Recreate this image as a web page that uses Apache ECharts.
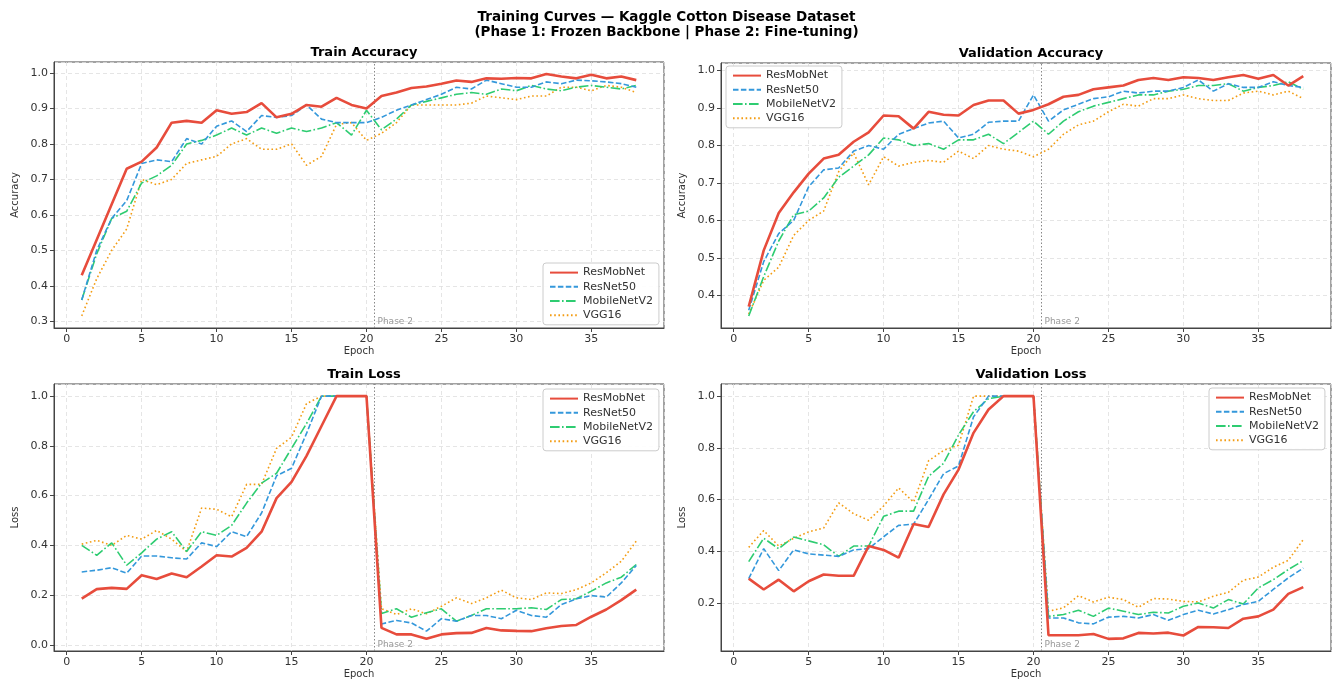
<!DOCTYPE html>
<html>
<head>
<meta charset="utf-8">
<title>Training Curves — Kaggle Cotton Disease Dataset</title>
<script src="https://cdn.jsdelivr.net/npm/echarts@6/dist/echarts.min.js"></script>
<style>
    html, body { margin: 0; padding: 0; background: #fff; }
    #mainChart { width: 1333px; height: 683px; }
</style>
</head>
<body>
<div id="mainChart"></div>
<script>
const epochs = [1, 2, 3, 4, 5, 6, 7, 8, 9, 10, 11, 12, 13, 14, 15, 16, 17, 18, 19, 20,
    21, 22, 23, 24, 25, 26, 27, 28, 29, 30, 31, 32, 33, 34, 35, 36, 37, 38];
const modelNames = ['ResMobNet', 'ResNet50', 'MobileNetV2', 'VGG16'];
const phase2Start = 20.5;

// Train accuracy
const trainAccResMobNet = [0.43, 0.53, 0.63, 0.73, 0.75, 0.79, 0.86, 0.865, 0.86, 0.895, 0.885, 0.89, 0.915, 0.875, 0.885, 0.91, 0.905, 0.93, 0.91, 0.90,
    0.935, 0.945, 0.958, 0.962, 0.97, 0.979, 0.975, 0.985, 0.984, 0.986, 0.985, 0.997, 0.99, 0.985, 0.995, 0.985, 0.99, 0.98];
const trainAccResNet50 = [0.36, 0.50, 0.59, 0.64, 0.745, 0.755, 0.75, 0.815, 0.80, 0.85, 0.865, 0.835, 0.88, 0.875, 0.88, 0.91, 0.87, 0.86, 0.86, 0.86,
    0.875, 0.895, 0.91, 0.925, 0.94, 0.96, 0.955, 0.98, 0.97, 0.96, 0.96, 0.975, 0.97, 0.98, 0.978, 0.975, 0.97, 0.96];
const trainAccMobileNetV2 = [0.36, 0.49, 0.59, 0.61, 0.69, 0.71, 0.74, 0.80, 0.81, 0.825, 0.845, 0.825, 0.845, 0.83, 0.845, 0.835, 0.845, 0.86, 0.825, 0.895,
    0.84, 0.87, 0.91, 0.92, 0.93, 0.94, 0.945, 0.94, 0.955, 0.95, 0.965, 0.955, 0.95, 0.96, 0.965, 0.96, 0.955, 0.965];
const trainAccVGG16 = [0.315, 0.42, 0.50, 0.56, 0.70, 0.685, 0.70, 0.745, 0.755, 0.765, 0.80, 0.815, 0.785, 0.785, 0.80, 0.74, 0.765, 0.855, 0.86, 0.81,
    0.83, 0.86, 0.91, 0.91, 0.91, 0.91, 0.915, 0.935, 0.93, 0.925, 0.935, 0.935, 0.96, 0.96, 0.95, 0.965, 0.96, 0.945];

// Validation accuracy
const valAccResMobNet = [0.37, 0.52, 0.62, 0.675, 0.725, 0.765, 0.775, 0.81, 0.835, 0.88, 0.878, 0.845, 0.89, 0.882, 0.88, 0.908, 0.92, 0.92, 0.885, 0.895,
    0.91, 0.93, 0.935, 0.95, 0.955, 0.96, 0.975, 0.98, 0.975, 0.982, 0.98, 0.975, 0.982, 0.988, 0.978, 0.988, 0.96, 0.985];
const valAccResNet50 = [0.36, 0.49, 0.565, 0.60, 0.69, 0.735, 0.74, 0.785, 0.80, 0.79, 0.83, 0.845, 0.86, 0.865, 0.82, 0.83, 0.862, 0.865, 0.865, 0.935,
    0.865, 0.895, 0.91, 0.925, 0.93, 0.945, 0.94, 0.945, 0.945, 0.955, 0.975, 0.945, 0.965, 0.955, 0.955, 0.97, 0.96, 0.955];
const valAccMobileNetV2 = [0.345, 0.45, 0.545, 0.615, 0.625, 0.66, 0.715, 0.745, 0.775, 0.82, 0.815, 0.80, 0.805, 0.79, 0.815, 0.815, 0.83, 0.805, 0.835, 0.865,
    0.83, 0.865, 0.89, 0.905, 0.915, 0.925, 0.935, 0.935, 0.945, 0.95, 0.96, 0.96, 0.965, 0.945, 0.955, 0.96, 0.97, 0.95];
const valAccVGG16 = [0.35, 0.44, 0.475, 0.56, 0.60, 0.625, 0.73, 0.78, 0.695, 0.77, 0.745, 0.755, 0.76, 0.755, 0.785, 0.765, 0.80, 0.79, 0.785, 0.77,
    0.79, 0.83, 0.855, 0.865, 0.89, 0.91, 0.905, 0.925, 0.925, 0.935, 0.925, 0.92, 0.92, 0.94, 0.945, 0.935, 0.945, 0.925];

// Train loss (clipped at 1.0 in the plot)
const trainLossResMobNet = [0.186, 0.224, 0.229, 0.225, 0.28, 0.265, 0.287, 0.272, 0.315, 0.36, 0.355, 0.39, 0.455, 0.59, 0.655, 0.76, 0.88, 1.0, 1.0, 1.0,
    0.068, 0.042, 0.042, 0.024, 0.042, 0.047, 0.048, 0.068, 0.058, 0.056, 0.055, 0.067, 0.076, 0.08, 0.113, 0.142, 0.18, 0.222];
const trainLossResNet50 = [0.293, 0.30, 0.31, 0.288, 0.357, 0.357, 0.35, 0.345, 0.41, 0.395, 0.455, 0.435, 0.53, 0.68, 0.71, 0.85, 1.0, 1.0, 1.0, 1.0,
    0.084, 0.098, 0.088, 0.055, 0.105, 0.095, 0.118, 0.118, 0.105, 0.139, 0.118, 0.111, 0.162, 0.185, 0.198, 0.192, 0.249, 0.319];
const trainLossMobileNetV2 = [0.40, 0.36, 0.41, 0.32, 0.37, 0.425, 0.455, 0.375, 0.455, 0.44, 0.48, 0.57, 0.65, 0.69, 0.79, 0.89, 1.0, 1.0, 1.0, 1.0,
    0.126, 0.145, 0.111, 0.129, 0.145, 0.095, 0.118, 0.145, 0.145, 0.145, 0.149, 0.142, 0.182, 0.185, 0.216, 0.249, 0.272, 0.323];
const trainLossVGG16 = [0.405, 0.42, 0.40, 0.44, 0.425, 0.46, 0.425, 0.375, 0.55, 0.545, 0.515, 0.645, 0.645, 0.79, 0.835, 0.97, 1.0, 1.0, 1.0, 1.0,
    0.145, 0.122, 0.145, 0.125, 0.155, 0.189, 0.166, 0.189, 0.22, 0.189, 0.182, 0.209, 0.206, 0.222, 0.249, 0.29, 0.336, 0.417];

// Validation loss (clipped at 1.0 in the plot)
const valLossResMobNet = [0.294, 0.252, 0.29, 0.245, 0.284, 0.31, 0.305, 0.305, 0.42, 0.405, 0.375, 0.505, 0.494, 0.62, 0.716, 0.858, 0.948, 1.0, 1.0, 1.0,
    0.075, 0.075, 0.075, 0.08, 0.061, 0.063, 0.084, 0.082, 0.085, 0.074, 0.107, 0.106, 0.103, 0.139, 0.148, 0.174, 0.235, 0.261];
const valLossResNet50 = [0.294, 0.41, 0.325, 0.405, 0.39, 0.385, 0.38, 0.405, 0.41, 0.456, 0.50, 0.505, 0.60, 0.70, 0.73, 0.92, 1.0, 1.0, 1.0, 1.0,
    0.142, 0.142, 0.123, 0.119, 0.145, 0.148, 0.142, 0.155, 0.133, 0.155, 0.172, 0.157, 0.174, 0.194, 0.206, 0.252, 0.297, 0.335];
const valLossMobileNetV2 = [0.36, 0.45, 0.41, 0.455, 0.44, 0.425, 0.38, 0.42, 0.42, 0.535, 0.555, 0.555, 0.69, 0.74, 0.85, 0.94, 0.99, 1.0, 1.0, 1.0,
    0.148, 0.155, 0.172, 0.148, 0.18, 0.168, 0.155, 0.164, 0.161, 0.187, 0.2, 0.18, 0.213, 0.196, 0.258, 0.29, 0.329, 0.364];
const valLossVGG16 = [0.415, 0.48, 0.42, 0.45, 0.475, 0.49, 0.587, 0.545, 0.52, 0.575, 0.645, 0.59, 0.75, 0.79, 0.81, 1.0, 1.0, 1.0, 1.0, 1.0,
    0.168, 0.181, 0.228, 0.204, 0.222, 0.213, 0.183, 0.217, 0.215, 0.206, 0.204, 0.226, 0.241, 0.288, 0.3, 0.338, 0.365, 0.445];

const FONT = 'DejaVu Sans';
const modelStyles = [
    {color: '#e74c3c', width: 2.6, type: 'solid'},
    {color: '#3498db', width: 1.6, type: [5.5, 2.4]},
    {color: '#2ecc71', width: 1.6, type: [9.6, 2.4, 1.6, 2.4]},
    {color: '#f39c12', width: 1.6, type: [1.6, 2.6]}
];

const panels = [
    {
        title: 'Train Accuracy', yName: 'Accuracy', splitNumber: 7,
        values: [trainAccResMobNet, trainAccResNet50, trainAccMobileNetV2, trainAccVGG16],
        grid: {left: 54, top: 62, width: 610, height: 266},
        legendPos: {left: 543, top: 263}
    },
    {
        title: 'Validation Accuracy', yName: 'Accuracy', splitNumber: 7,
        values: [valAccResMobNet, valAccResNet50, valAccMobileNetV2, valAccVGG16],
        grid: {left: 721, top: 63, width: 610, height: 265},
        legendPos: {left: 726, top: 66}
    },
    {
        title: 'Train Loss', yName: 'Loss', splitNumber: 5,
        values: [trainLossResMobNet, trainLossResNet50, trainLossMobileNetV2, trainLossVGG16],
        grid: {left: 54, top: 384, width: 610, height: 267},
        legendPos: {left: 543, top: 389}
    },
    {
        title: 'Validation Loss', yName: 'Loss', splitNumber: 5,
        values: [valLossResMobNet, valLossResNet50, valLossMobileNetV2, valLossVGG16],
        grid: {left: 721, top: 384, width: 610, height: 267},
        legendPos: {left: 1209, top: 388}
    }
];

// matplotlib-like auto limits: data range plus 5% margin each side
function paddedExtent(list) {
    let lo = Infinity, hi = -Infinity;
    list.forEach(function (arr) {
        arr.forEach(function (v) {
            lo = Math.min(lo, v);
            hi = Math.max(hi, v);
        });
    });
    const pad = (hi - lo) * 0.05;
    return [lo - pad, hi + pad];
}

const xExtent = paddedExtent([epochs]);

function buildOption() {
    const option = {
        backgroundColor: '#fff',
        animation: false,
        title: [{
            text: 'Training Curves — Kaggle Cotton Disease Dataset\n(Phase 1: Frozen Backbone | Phase 2: Fine-tuning)',
            left: 'center',
            top: 5,
            textStyle: {fontFamily: FONT, fontSize: 13.5, fontWeight: 'bold', color: '#000', lineHeight: 15}
        }],
        grid: [], xAxis: [], yAxis: [], legend: [], series: []
    };

    panels.forEach(function (p, gi) {
        const yExtent = paddedExtent(p.values);
        option.title.push({
            text: p.title,
            left: p.grid.left + p.grid.width / 2,
            top: p.grid.top - 21,
            textAlign: 'center',
            textStyle: {fontFamily: FONT, fontSize: 13, fontWeight: 'bold', color: '#000'}
        });
        option.grid.push(Object.assign({
            show: true, borderColor: '#444', borderWidth: 1, backgroundColor: 'transparent'
        }, p.grid));
        option.xAxis.push({
            type: 'value', gridIndex: gi,
            min: xExtent[0], max: xExtent[1], splitNumber: 8,
            name: 'Epoch', nameLocation: 'middle', nameGap: 18,
            nameTextStyle: {fontFamily: FONT, fontSize: 10, color: '#333'},
            axisLine: {show: true, onZero: false, lineStyle: {color: '#444', width: 1}},
            axisTick: {show: true, length: 4, lineStyle: {color: '#444'}},
            axisLabel: {
                fontFamily: FONT, fontSize: 11, color: '#333', margin: 6,
                showMinLabel: false, showMaxLabel: false,
                formatter: function (v) { return String(Math.round(v)); }
            },
            splitLine: {show: true, lineStyle: {color: '#dedede', type: [4, 3], width: 0.8}}
        });
        option.yAxis.push({
            type: 'value', gridIndex: gi,
            min: yExtent[0], max: yExtent[1], splitNumber: p.splitNumber,
            name: p.yName, nameLocation: 'middle', nameGap: 34,
            nameTextStyle: {fontFamily: FONT, fontSize: 10, color: '#333'},
            axisLine: {show: true, onZero: false, lineStyle: {color: '#444', width: 1}},
            axisTick: {show: true, length: 4, lineStyle: {color: '#444'}},
            axisLabel: {
                fontFamily: FONT, fontSize: 11, color: '#333', margin: 6,
                showMinLabel: false, showMaxLabel: false,
                formatter: function (v) { return v.toFixed(1); }
            },
            splitLine: {show: true, lineStyle: {color: '#dedede', type: [4, 3], width: 0.8}}
        });
        option.legend.push({
            data: modelNames,
            orient: 'vertical',
            left: p.legendPos.left, top: p.legendPos.top,
            backgroundColor: 'rgba(255,255,255,0.9)',
            borderColor: '#cccccc', borderWidth: 1, borderRadius: 3,
            padding: [4, 6, 4, 6],
            itemWidth: 28, itemHeight: 14, itemGap: 3,
            itemStyle: {opacity: 0},
            textStyle: {fontFamily: FONT, fontSize: 11, color: '#333'}
        });

        p.values.forEach(function (arr, si) {
            const st = modelStyles[si];
            const s = {
                name: modelNames[si],
                type: 'line',
                xAxisIndex: gi, yAxisIndex: gi,
                data: epochs.map(function (e, i) { return [e, arr[i]]; }),
                symbol: 'none',
                z: 10 - si,
                color: st.color,
                lineStyle: {color: st.color, width: st.width, type: st.type}
            };
            if (si === 0) {
                s.markLine = {
                    silent: true, symbol: 'none', animation: false,
                    label: {show: false},
                    lineStyle: {color: '#888', type: [1.5, 2], width: 1},
                    data: [{xAxis: phase2Start}]
                };
                s.markPoint = {
                    silent: true, symbol: 'rect', symbolSize: 1,
                    itemStyle: {color: 'transparent'},
                    label: {
                        show: true, position: 'right', distance: 3, offset: [0, -6],
                        formatter: 'Phase 2', fontFamily: FONT, fontSize: 9, color: '#999'
                    },
                    data: [{coord: [phase2Start, yExtent[0]]}]
                };
            }
            option.series.push(s);
        });
    });
    return option;
}

const myChart = echarts.init(document.getElementById('mainChart'), null, {renderer: 'canvas'});
myChart.setOption(buildOption());
</script>
</body>
</html>
